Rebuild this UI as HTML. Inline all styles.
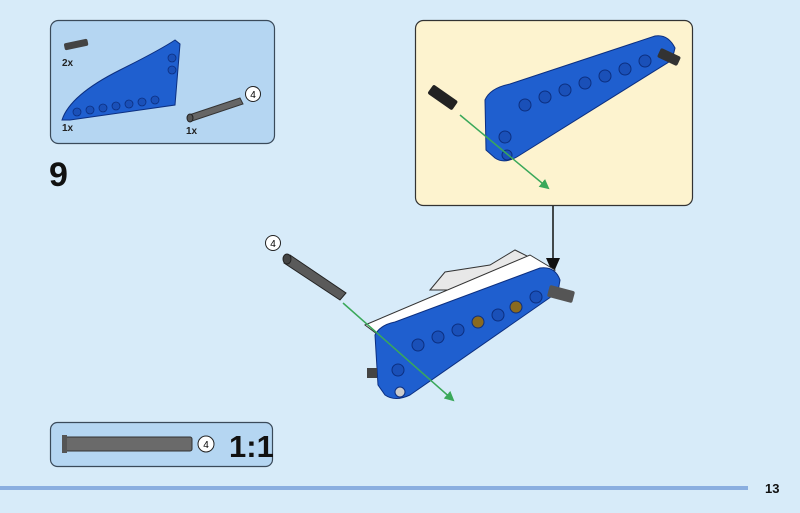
<!DOCTYPE html>
<html><head><meta charset="utf-8"><style>
html,body{margin:0;padding:0;background:#d7ebf9;width:800px;height:513px;overflow:hidden}
text{font-family:"Liberation Sans",sans-serif}
</style></head><body>
<svg width="800" height="513" viewBox="0 0 800 513" xmlns="http://www.w3.org/2000/svg">
<defs><marker id="ga" markerWidth="10" markerHeight="10" refX="8" refY="5" orient="auto" markerUnits="userSpaceOnUse"><path d="M0,0 L10,5 L0,10 z" fill="#3aa85a"/></marker></defs>
<rect x="0" y="0" width="800" height="513" fill="#d7ebf9"/>
<!-- parts box -->
<rect x="50.5" y="20.5" width="224" height="123" rx="8" fill="#b5d6f2" stroke="#3a4a5a" stroke-width="1.2"/>
<g>
<rect x="64" y="41" width="24" height="7" rx="2" fill="#444" transform="rotate(-12 76 44)"/>
<path d="M62,120 Q70,95 120,70 Q160,50 175,40 L180,44 L175,105 L70,120 Z" fill="#1f5fcf" stroke="#0c2f80"/>
<g fill="#1a50b8" stroke="#0c2f80" stroke-width="0.8">
<circle cx="77" cy="112" r="4"/><circle cx="90" cy="110" r="4"/><circle cx="103" cy="108" r="4"/><circle cx="116" cy="106" r="4"/><circle cx="129" cy="104" r="4"/><circle cx="142" cy="102" r="4"/><circle cx="155" cy="100" r="4"/><circle cx="172" cy="58" r="4"/><circle cx="172" cy="70" r="4"/></g>
<path d="M189,115 L240,98 L243,104 L192,121 Z" fill="#666" stroke="#333"/>
<ellipse cx="190" cy="118" rx="3" ry="4" fill="#555" stroke="#222"/>
<circle cx="253" cy="94" r="7.5" fill="#fff" stroke="#222"/><text x="253" y="98" font-size="10" text-anchor="middle">4</text>
<text x="62" y="66" font-size="10" font-weight="bold" fill="#222">2x</text>
<text x="62" y="131" font-size="10" font-weight="bold" fill="#222">1x</text>
<text x="186" y="134" font-size="10" font-weight="bold" fill="#222">1x</text>
</g>
<text x="49" y="186" font-size="34" font-weight="bold" fill="#111">9</text>
<!-- yellow callout -->
<rect x="415.5" y="20.5" width="277" height="185" rx="8" fill="#fdf3cf" stroke="#333" stroke-width="1.2"/>
<line x1="553" y1="206" x2="553" y2="262" stroke="#111" stroke-width="1.5"/>
<path d="M546,258 L560,258 L553,274 Z" fill="#111"/>
<path d="M485,100 Q490,88 510,84 L655,36 Q668,34 675,48 L672,60 L520,155 Q505,165 495,158 L486,150 Z" fill="#1f5fcf" stroke="#0c2f80"/>
<g fill="#1a50b8" stroke="#0c2f80" stroke-width="1"><circle cx="525" cy="105" r="6"/><circle cx="545" cy="97" r="6"/><circle cx="565" cy="90" r="6"/><circle cx="585" cy="83" r="6"/><circle cx="605" cy="76" r="6"/><circle cx="625" cy="69" r="6"/><circle cx="645" cy="61" r="6"/><circle cx="505" cy="137" r="6"/><circle cx="507" cy="155" r="5"/></g>
<rect x="658" y="52" width="22" height="10" rx="2" fill="#333" transform="rotate(25 669 57)"/>
<rect x="428" y="92" width="30" height="11" rx="2" fill="#222" transform="rotate(35 443 97)"/>
<line x1="460" y1="115" x2="548" y2="188" stroke="#3aa85a" stroke-width="1.5" marker-end="url(#ga)"/>
<!-- main assembly -->
<path d="M430,290 L445,272 L490,265 L515,250 L545,265 L500,290 Z" fill="#e8e8e8" stroke="#333"/>
<path d="M365,325 L530,255 L555,270 L385,340 Z" fill="#fff" stroke="#333"/>
<path d="M375,335 Q380,325 395,322 L540,268 Q555,266 560,280 L558,292 L410,395 Q395,402 385,395 L378,385 Z" fill="#1f5fcf" stroke="#0c2f80"/>
<g fill="#1a50b8" stroke="#0c2f80" stroke-width="1"><circle cx="418" cy="345" r="6"/><circle cx="438" cy="337" r="6"/><circle cx="458" cy="330" r="6"/><circle cx="478" cy="322" r="6" fill="#8a6a20"/><circle cx="498" cy="315" r="6"/><circle cx="516" cy="307" r="6" fill="#8a6a20"/><circle cx="536" cy="297" r="6"/><circle cx="398" cy="370" r="6"/><circle cx="400" cy="392" r="5" fill="#ccc"/></g>
<rect x="548" y="288" width="26" height="12" rx="2" fill="#555" transform="rotate(15 561 294)"/>
<rect x="367" y="368" width="10" height="10" fill="#444"/>
<path d="M284,263 L340,300 L346,293 L290,255 Z" fill="#5a5a5a" stroke="#222"/>
<ellipse cx="287" cy="259" rx="4" ry="5" fill="#444" stroke="#222"/>
<circle cx="273" cy="243" r="7.5" fill="#fff" stroke="#222"/><text x="273" y="247" font-size="10" text-anchor="middle">4</text>
<line x1="343" y1="303" x2="453" y2="400" stroke="#3aa85a" stroke-width="1.5" marker-end="url(#ga)"/>
<!-- 1:1 box -->
<rect x="50.5" y="422.5" width="222" height="44" rx="7" fill="#b5d6f2" stroke="#3a4a5a" stroke-width="1.2"/>
<rect x="64" y="437" width="128" height="14" rx="2" fill="#6a6a6a" stroke="#333"/>
<rect x="62" y="435" width="5" height="18" fill="#555"/>
<circle cx="206" cy="444" r="8" fill="#fff" stroke="#222"/><text x="206" y="448" font-size="10" text-anchor="middle">4</text>
<text x="229" y="457" font-size="31" font-weight="bold" fill="#111">1:1</text>
<!-- footer -->
<rect x="0" y="486" width="748" height="4" fill="#8aaee0"/>
<text x="765" y="493" font-size="13" font-weight="bold" fill="#111">13</text>
</svg>
</body></html>
